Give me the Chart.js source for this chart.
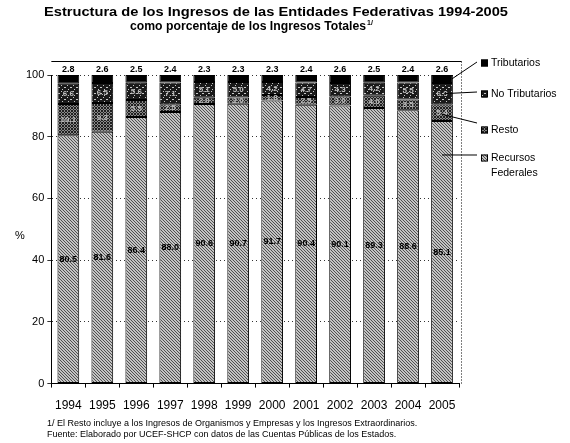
<!DOCTYPE html>
<html>
<head>
<meta charset="utf-8">
<script src="https://cdn.jsdelivr.net/npm/chart.js@4.4.1/dist/chart.umd.min.js"></script>
<style>
  html, body { margin: 0; padding: 0; background: #fff; }
  #wrap { width: 570px; height: 443px; position: relative; }
</style>
</head>
<body>
<div id="wrap"><canvas id="myChart" width="570" height="443"></canvas></div>
<script>
// data (percent of total income)
const years = ['1994', '1995', '1996', '1997', '1998', '1999', '2000', '2001', '2002', '2003', '2004', '2005'];
const recursosFederales = [80.5, 81.6, 86.4, 88.0, 90.6, 90.7, 91.7, 90.4, 90.1, 89.3, 88.6, 85.1];
const resto = [10.1, 9.3, 5.5, 2.5, 2.0, 2.0, 1.8, 2.5, 3.0, 4.0, 3.5, 5.4];
const noTributarios = [6.6, 6.5, 5.6, 7.1, 5.1, 5.0, 4.2, 4.7, 4.3, 4.2, 5.5, 6.9];
const tributarios = [2.8, 2.6, 2.5, 2.4, 2.3, 2.3, 2.3, 2.4, 2.6, 2.5, 2.4, 2.6];
const yTicks = [0, 20, 40, 60, 80, 100];

const FONT = '"Liberation Sans", Arial, sans-serif';

// grayscale fill patterns, like the scanned original
function makePattern(bg, fg, kind) {
  const c = document.createElement('canvas');
  c.width = 6; c.height = 6;
  const g = c.getContext('2d');
  g.fillStyle = bg;
  g.fillRect(0, 0, 6, 6);
  g.strokeStyle = fg;
  g.fillStyle = fg;
  g.lineWidth = 1;
  if (kind === 'diag' || kind === 'cross') {
    g.beginPath();
    for (let i = -6; i <= 12; i += 3) {
      g.moveTo(i, 0); g.lineTo(i + 6, 6);
    }
    g.stroke();
  }
  if (kind === 'cross') {
    g.beginPath();
    for (let i = -6; i <= 12; i += 3) {
      g.moveTo(i, 6); g.lineTo(i + 6, 0);
    }
    g.stroke();
  }
  if (kind === 'dots') {
    g.fillRect(1, 1, 1, 1);
    g.fillRect(4, 3, 2, 1);
    g.fillRect(2, 5, 1, 1);
  }
  return g.createPattern(c, 'repeat');
}

const ctx0 = document.getElementById('myChart').getContext('2d');
const fills = {
  rec: makePattern('#c4c4c4', '#505050', 'diag'),
  resto: makePattern('#8a8a8a', '#202020', 'cross'),
  notrib: makePattern('#1a1a1a', '#c8c8c8', 'dots'),
  trib: '#000'
};

const labelsPlugin = {
  id: 'labelsPlugin',
  afterDatasetsDraw(chart) {
    const ctx = chart.ctx;
    ctx.save();
    ctx.textAlign = 'center';
    ctx.textBaseline = 'middle';
    chart.data.datasets.forEach((ds, di) => {
      const meta = chart.getDatasetMeta(di);
      meta.data.forEach((bar, i) => {
        const txt = ds.data[i].toFixed(1);
        if (di === 3) {
          ctx.font = 'bold 9px ' + FONT;
          ctx.fillStyle = '#000';
          ctx.fillText(txt, bar.x, bar.y - 5);
        } else if (di === 0) {
          ctx.font = 'bold 9px ' + FONT;
          ctx.fillStyle = '#000';
          ctx.fillText(txt, bar.x, (bar.y + bar.base) / 2);
        } else {
          ctx.font = 'bold 8px ' + FONT;
          ctx.fillStyle = '#bdbdbd';
          ctx.fillText(txt, bar.x, (bar.y + bar.base) / 2);
        }
      });
    });
    ctx.restore();
  }
};

// draws text squeezed or stretched to a given width
function fitText(ctx, txt, cx, cy, width) {
  const w = ctx.measureText(txt).width;
  ctx.save();
  ctx.translate(cx, cy);
  ctx.scale(width / w, 1);
  ctx.textAlign = 'center';
  ctx.fillText(txt, 0, 0);
  ctx.restore();
}

const decorPlugin = {
  id: 'decorPlugin',
  afterDraw(chart) {
    const ctx = chart.ctx;
    const a = chart.chartArea;
    ctx.save();
    // title
    ctx.fillStyle = '#000';
    ctx.textBaseline = 'middle';
    ctx.font = 'bold 12.5px ' + FONT;
    fitText(ctx, 'Estructura de los Ingresos de las Entidades Federativas 1994-2005', 276, 13, 464);
    fitText(ctx, 'como porcentaje de los Ingresos Totales', 248, 27, 236);
    ctx.font = 'bold 7px ' + FONT;
    ctx.textAlign = 'left';
    ctx.fillText('1/', 367, 23);

    // frame above and right of the plot
    ctx.strokeStyle = '#000';
    ctx.lineWidth = 1;
    ctx.beginPath();
    ctx.moveTo(a.left, 61.5); ctx.lineTo(a.right + 2.5, 61.5);
    ctx.stroke();
    ctx.setLineDash([1, 2]);
    ctx.beginPath();
    ctx.moveTo(a.right + 2.5, 61.5); ctx.lineTo(a.right + 2.5, a.bottom);
    ctx.stroke();
    ctx.setLineDash([]);

    // y axis title
    ctx.font = '11px ' + FONT;
    ctx.textAlign = 'center';
    ctx.fillText('%', 20, 236);

    // legend with leader lines from the 2005 bar
    const last = years.length - 1;
    const legendItems = [
      { ds: 3, lines: ['Tributarios'], y: 63, fy: 0.5, ey: 62, dx: 0.45 },
      { ds: 2, lines: ['No Tributarios'], y: 94, fy: 0.5, ey: 92, dx: 0.1 },
      { ds: 1, lines: ['Resto'], y: 130, fy: 0.6, ey: 123, dx: 0 },
      { ds: 0, lines: ['Recursos', 'Federales'], y: 158, fy: null, ey: 155, dx: 0 }
    ];
    ctx.font = '10.5px ' + FONT;
    ctx.textAlign = 'left';
    legendItems.forEach(it => {
      const bar = chart.getDatasetMeta(it.ds).data[last];
      let sy;
      if (it.fy === null) sy = bar.y + 34;
      else sy = bar.y + (bar.base - bar.y) * it.fy;
      ctx.beginPath();
      ctx.moveTo(bar.x + bar.width * it.dx, sy);
      ctx.lineTo(477, it.ey);
      ctx.stroke();
      ctx.fillStyle = chart.data.datasets[it.ds].backgroundColor;
      ctx.fillRect(481, it.y - 3.5, 7, 7);
      ctx.strokeRect(481.5, it.y - 3, 6, 6);
      ctx.fillStyle = '#000';
      it.lines.forEach((ln, k) => ctx.fillText(ln, 491, it.y + k * 15));
    });

    // footnotes
    ctx.font = '9px ' + FONT;
    ctx.textAlign = 'left';
    ctx.fillText('1/ El Resto incluye a los Ingresos de Organismos y Empresas y los Ingresos Extraordinarios.', 47, 424);
    ctx.fillText('Fuente: Elaborado por UCEF-SHCP con datos de las Cuentas P\u00fablicas de los Estados.', 47, 435);
    ctx.restore();
  }
};

new Chart(ctx0, {
  type: 'bar',
  data: {
    labels: years,
    datasets: [
      { label: 'Recursos Federales', data: recursosFederales, backgroundColor: fills.rec },
      { label: 'Resto', data: resto, backgroundColor: fills.resto },
      { label: 'No Tributarios', data: noTributarios, backgroundColor: fills.notrib },
      { label: 'Tributarios', data: tributarios, backgroundColor: fills.trib }
    ].map(d => Object.assign(d, {
      borderColor: '#000',
      borderWidth: 1,
      borderSkipped: false,
      categoryPercentage: 1,
      barPercentage: 0.64
    }))
  },
  options: {
    responsive: false,
    animation: false,
    layout: { padding: { left: 23, right: 111, top: 75, bottom: 19 } },
    plugins: {
      legend: { display: false },
      tooltip: { enabled: false },
      title: { display: false }
    },
    scales: {
      x: {
        stacked: true,
        grid: { display: true, drawOnChartArea: false, offset: true, tickLength: 4, color: '#000' },
        border: { display: true, color: '#000' },
        ticks: { color: '#000', font: { family: FONT, size: 12 }, padding: 11, maxRotation: 0 }
      },
      y: {
        stacked: true,
        min: 0,
        max: 100,
        afterBuildTicks: axis => { axis.ticks = yTicks.map(v => ({ value: v })); },
        grid: { color: '#333', tickLength: 4 },
        border: { display: true, color: '#000', dash: [1, 3] },
        ticks: { color: '#000', font: { family: FONT, size: 11 }, padding: 3 }
      }
    }
  },
  plugins: [labelsPlugin, decorPlugin]
});
</script>
</body>
</html>
